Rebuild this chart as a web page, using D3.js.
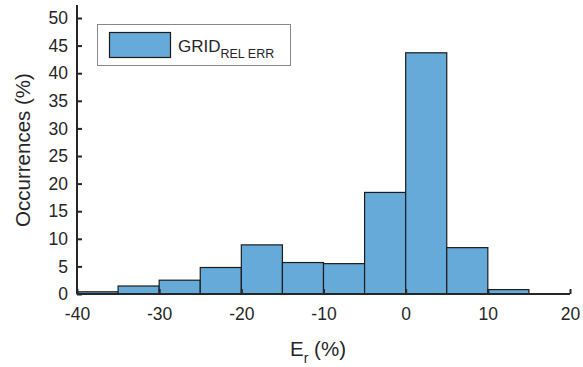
<!DOCTYPE html>
<html>
<head>
<meta charset="utf-8">
<script src="https://cdn.jsdelivr.net/npm/d3@7"></script>
<style>
  body { margin: 0; background: #fff; }
  text { font-family: "Liberation Sans", Arial, sans-serif; fill: #262626; }
</style>
</head>
<body>
<script>
// histogram data (bin edges in %, occurrences in %)
var binStarts = [-40, -35, -30, -25, -20, -15, -10, -5, 0, 5, 10];
var binWidth = 5;
var occurrences = [0.4, 1.45, 2.5, 4.8, 8.9, 5.7, 5.5, 18.4, 43.7, 8.4, 0.8];
var xTicks = [-40, -30, -20, -10, 0, 10, 20];
var yTicks = [0, 5, 10, 15, 20, 25, 30, 35, 40, 45, 50];

var W = 583, H = 367;

var svg = d3.select("body").append("svg")
    .attr("width", W)
    .attr("height", H);

var x = d3.scaleLinear().domain([-40, 20]).range([77, 570]);
var y = d3.scaleLinear().domain([0, 50]).range([294, 18]);

// bars
svg.append("g")
    .selectAll("rect")
    .data(binStarts)
    .join("rect")
    .attr("x", d => x(d))
    .attr("width", d => x(d + binWidth) - x(d))
    .attr("y", (d, i) => y(occurrences[i]))
    .attr("height", (d, i) => y(0) - y(occurrences[i]))
    .attr("fill", "#65aad8")
    .attr("stroke", "#1c1c1c")
    .attr("stroke-width", 1.2);

// x axis (ticks pointing inward, plain hyphen for negatives)
var xAxis = svg.append("g")
    .attr("transform", "translate(0," + y(0) + ")")
    .call(d3.axisBottom(x).tickValues(xTicks).tickFormat(d => String(d))
        .tickSizeInner(-5).tickSizeOuter(0).tickPadding(14));
// y axis
var yAxis = svg.append("g")
    .attr("transform", "translate(" + x(-40) + ",0)")
    .call(d3.axisLeft(y).tickValues(yTicks).tickFormat(d => String(d))
        .tickSizeInner(-5).tickSizeOuter(0).tickPadding(9));

[xAxis, yAxis].forEach(function(a) {
    a.selectAll("path, line").attr("stroke", "#262626").attr("stroke-width", 2);
    a.selectAll("text").style("font-size", "17.5px").attr("fill", "#262626");
});
yAxis.select(".domain").attr("d", "M0," + y(0) + "V5");
xAxis.select(".domain").attr("d", "M" + x(-40) + ",0H" + x(20));

// axis labels
svg.append("text")
    .attr("transform", "translate(30," + 150 + ") rotate(-90)")
    .attr("text-anchor", "middle")
    .style("font-size", "20.5px")
    .text("Occurrences (%)");

var xl = svg.append("text")
    .attr("x", 318)
    .attr("y", 356)
    .attr("text-anchor", "middle")
    .style("font-size", "20.5px");
xl.append("tspan").text("E");
xl.append("tspan").attr("dy", 7).style("font-size", "14px").text("r");
xl.append("tspan").attr("dy", -7).text(" (%)");

// legend
var lg = svg.append("g");
lg.append("rect")
    .attr("x", 97.5).attr("y", 24.5)
    .attr("width", 193).attr("height", 41)
    .attr("fill", "#fff")
    .attr("stroke", "#888")
    .attr("stroke-width", 1);
lg.append("rect")
    .attr("x", 109.5).attr("y", 32.5)
    .attr("width", 61).attr("height", 25)
    .attr("fill", "#65aad8")
    .attr("stroke", "#1c1c1c")
    .attr("stroke-width", 1.2);
var lt = lg.append("text")
    .attr("x", 178)
    .attr("y", 52)
    .style("font-size", "17px");
lt.append("tspan").text("GRID");
lt.append("tspan").attr("dy", 6).style("font-size", "12.5px").text("REL ERR");
</script>
</body>
</html>
